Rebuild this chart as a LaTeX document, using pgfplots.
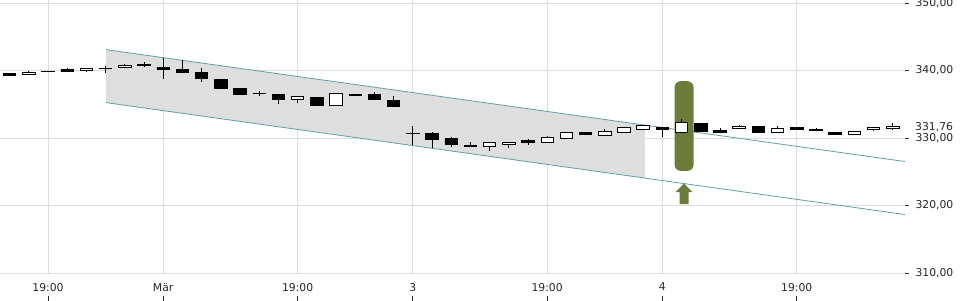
\documentclass[border=0pt]{standalone}
\usepackage{pgfplots}
\pgfplotsset{compat=1.18}
\usepackage{pgfplotstable}
\usepackage{fontspec}
\setmainfont{DejaVu Sans}
\definecolor{hl}{HTML}{6B7C3A}
\definecolor{chan}{RGB}{95,160,168}
\definecolor{chanfill}{RGB}{222,222,222}
\definecolor{gridc}{RGB}{220,220,220}
\pgfplotstableread{
x o h l c
0 339.6 339.6 339.3 339.3
1 339.4 339.85 339.4 339.7
2 339.86 339.95 339.75 339.84
3 340.15 340.35 339.8 339.8
4 339.95 340.3 339.8 340.3
5 340.26 340.7 339.7 340.24
6 340.4 340.95 340.4 340.75
7 340.95 341.3 340.5 340.7
8 340.45 341.8 338.7 340.1
9 340.15 341.5 339.65 339.65
10 339.75 340.3 338.3 338.9
11 338.7 338.7 337.3 337.3
12 337.4 337.4 336.35 336.5
13 336.65 337.0 336.15 336.55
14 336.5 336.5 335.1 335.75
15 335.65 336.15 335.25 336.15
16 336.0 336.0 334.9 334.9
17 334.8 336.6 334.8 336.6
18 336.45 336.55 336.3 336.35
19 336.5 336.75 335.7 335.7
20 335.55 336.15 334.75 334.75
21 330.71 331.8 329.0 330.69
22 330.7 330.9 328.5 329.8
23 329.9 330.15 328.7 329.0
24 328.9 329.4 328.7 328.7
25 328.7 329.35 328.0 329.35
26 329.0 329.4 328.5 329.4
27 329.6 329.8 329.0 329.3
28 329.4 330.3 329.4 330.05
29 330.0 330.8 330.0 330.8
30 330.85 330.85 330.6 330.6
31 330.45 331.4 330.45 330.95
32 330.9 331.55 330.9 331.55
33 331.2 331.85 331.2 331.85
34 331.6 331.6 330.2 331.2
35 330.8 332.8 330.8 332.3
36 332.15 332.15 331.0 331.0
37 331.15 331.45 330.9 330.9
38 331.4 331.85 331.4 331.7
39 331.7 331.7 330.8 330.8
40 330.8 331.75 330.8 331.4
41 331.6 331.6 331.25 331.25
42 331.3 331.5 331.05 331.05
43 330.85 330.85 330.5 330.5
44 330.5 331.0 330.5 331.0
45 331.2 331.7 331.1 331.55
46 331.45 332.15 331.2 331.76
}\candles
\begin{document}
\begin{tikzpicture}
\useasboundingbox (0,0) rectangle (960pt,300pt);
\begin{axis}[
  at={(0pt,27pt)}, anchor=south west,
  width=905pt, height=273pt, scale only axis,
  xmin=-0.5, xmax=46.64, ymin=310, ymax=350.44,
  enlargelimits=false,
  axis line style={draw=none},
  grid=major, grid style={gridc, line width=0.8pt},
  xtick={2,8,15,21,28,34,41},
  xticklabels={{19:00\\[0pt]\rule{0.7pt}{5pt}},{Mär\\[0pt]\rule{0.7pt}{5pt}},{19:00\\[0pt]\rule{0.7pt}{5pt}},{3\\[0pt]\rule{0.7pt}{5pt}},{19:00\\[0pt]\rule{0.7pt}{5pt}},{4\\[0pt]\rule{0.7pt}{5pt}},{19:00\\[0pt]\rule{0.7pt}{5pt}}},
  xtick pos=bottom,
  every x tick/.style={draw=none},
  xticklabel style={align=center, anchor=north, font=\fontsize{10.8}{10}\selectfont, text=black!85, yshift=-2.5pt},
  ytick={310,320,330,340,350},
  ytick pos=right,
  tick align=outside, major tick length=4pt,
  every y tick/.style={black!80, line width=0.7pt},
  yticklabel style={anchor=west, xshift=3pt, font=\fontsize{10.8}{12}\selectfont, text=black!85},
  /pgf/number format/.cd, fixed, fixed zerofill, precision=2, use comma, 1000 sep={}, assume math mode=true,
  /pgfplots/.cd,
  extra y ticks={331.76}, extra y tick labels={331{,}76},
  extra y tick style={grid=none, major tick style={draw=none}, yticklabel style={fill=white, inner sep=1pt, xshift=2pt, yshift=-1pt}},
]
\addplot[fill=chanfill, draw=none] coordinates {(5.02,343.09) (33.1,331.90) (33.1,324.05) (5.02,335.24)} -- cycle;
\addplot[chan, line width=0.8pt] coordinates {(5.02,343.09) (46.67,326.5)};
\addplot[chan, line width=0.8pt] coordinates {(5.02,335.24) (46.67,318.65)};
\addplot[fill=hl, draw=none, rounded corners=6pt] coordinates {(34.64,325.13) (35.625,325.13) (35.625,338.41) (34.64,338.41)} -- cycle;
\addplot[fill=hl, draw=none] coordinates {(35.13,323.26) (35.573,321.97) (35.364,321.97) (35.364,320.19) (34.896,320.19) (34.896,321.97) (34.687,321.97)} -- cycle;
\addplot[draw=none, mark=none, error bars/.cd, y dir=plus, y explicit, error mark=none, error bar style={draw=black, line width=0.8pt}]
  table[x=x, y=l, y error expr={\thisrow{h}-\thisrow{l}}] {\candles};
\end{axis}
\begin{axis}[
  at={(0pt,27pt)}, anchor=south west,
  width=905pt, height=273pt, scale only axis,
  xmin=-0.5, xmax=46.64, ymin=310, ymax=350.44,
  enlargelimits=false, hide axis,
  ybar stacked, bar width=12.5pt,
]
\addplot[draw=none, fill=none] table[x=x, y expr={min(\thisrow{o},\thisrow{c})}] {\candles};
\addplot[draw=black, fill=black, line width=0.8pt] table[x=x, y expr={max(\thisrow{o}-\thisrow{c},0)}] {\candles};
\addplot[draw=black, fill=white, line width=0.8pt] table[x=x, y expr={max(\thisrow{c}-\thisrow{o},0)}] {\candles};
\end{axis}
\end{tikzpicture}
\end{document}
